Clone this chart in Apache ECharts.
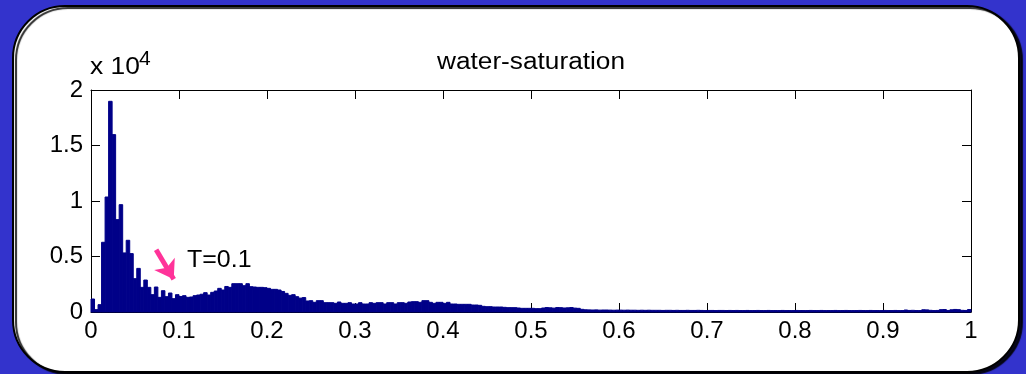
<!DOCTYPE html>
<html>
<head>
<meta charset="utf-8">
<title>water-saturation</title>
<script src="https://cdn.jsdelivr.net/npm/echarts@6/dist/echarts.min.js"></script>
<style>
	html, body { margin: 0; padding: 0; background: #3333cc; }
	#chart { width: 1026px; height: 374px; }
</style>
</head>
<body>
<div id="chart"></div>
<script>
// histogram bins, width 0.004, counts
var binWidth = 0.004
var countsA = [1170, 210, 660, 6280, 10360, 18980, 15980, 8320, 9670, 5320,
	6460, 5260, 3000, 3930, 2220, 2880, 2220, 1560, 2250, 1320,
	1920, 1380, 1710, 1200, 1560]						// 0 - 0.1
var countsB = [1400, 1470, 1320, 1350, 1470, 1530, 1600, 1740, 1530, 1770,
	1890, 2130, 1980, 2300, 2220, 2550, 2550, 2550, 2370, 2550,
	2280, 2250, 2220, 2220, 2190, 2130, 2040, 2040, 1980, 1850]	// 0.1 - 0.22
var countsC = [1680, 1500, 1560, 1380, 1250, 1300, 990, 1020, 870, 1020,
	1020, 840, 840, 840, 780, 900, 780, 780, 840, 720,
	720, 840, 720, 720, 840, 780, 840, 840, 720, 840,
	840, 720, 840, 840, 780]							// 0.22 - 0.36
var countsD = [900, 930, 930, 870, 1020, 1020, 870, 780, 870, 870,
	780, 870, 720, 720, 690, 690, 690, 690, 630, 630,
	600, 510, 480, 480, 450, 450, 450, 420, 390, 390,
	390, 360, 330, 330, 330, 330, 300, 300, 360, 400,
	380, 350, 400, 390, 360, 380, 400, 350, 330, 240]	// 0.36 - 0.56
var countsE = [200, 190, 180, 190, 170, 180, 180, 170, 160, 170,
	170, 160, 170, 160, 160, 150, 160, 150, 160, 150,
	150, 150, 140, 150, 150, 140, 150, 140, 140, 150,
	140, 140, 150, 140, 130, 140, 140, 130, 140, 140,
	130, 140, 130, 140, 130, 130, 140, 130, 130, 140,
	130, 130, 140, 130, 130, 130, 140, 130, 130, 130,
	140, 130, 130, 130, 140, 130, 130, 140, 130, 130,
	130, 140, 130, 130, 140, 130, 130, 130, 140, 130,
	130, 140, 130, 130, 130, 140, 130, 130, 140, 130,
	130, 180, 140, 150, 130, 130, 200, 190, 150, 130,
	140, 210, 220, 140, 200, 230, 210, 150, 140, 220]	// 0.56 - 1

var xTicks = [0, 1, 0.1]			// min, max, interval
var yTicks = [0, 20000, 5000]
var arrowFrom = [0.074, 5600]		// T=0.1 pointer
var arrowTo = [0.094, 2950]

var counts = countsA.concat(countsB, countsC, countsD, countsE)
var bins = counts.map(function (c, i) {
	return [+(i * binWidth).toFixed(3), c]
})

var barColor = '#000088'
var labelFont = 'Liberation Sans, Arial, sans-serif'

var chart = echarts.init(document.getElementById('chart'))
var option = {}
option.animation = false
option.backgroundColor = '#3333cc'

option.grid = { left: 91, right: 55, top: 90, bottom: 62 }

// matlab style box: axis on every side, ticks pointing in
var boxLine = { show: true, onZero: false, lineStyle: { color: '#000', width: 1 } }
var boxTick = { show: true, inside: true, length: 9, lineStyle: { color: '#000' } }

option.xAxis = [{
	type: 'value',
	min: xTicks[0], max: xTicks[1], interval: xTicks[2],
	axisLine: boxLine,
	axisTick: boxTick,
	splitLine: { show: false },
	axisLabel: { margin: 7, fontFamily: labelFont, fontSize: 24, color: '#000' }
}, {
	type: 'value',
	position: 'top',
	min: xTicks[0], max: xTicks[1], interval: xTicks[2],
	axisLine: boxLine,
	axisTick: boxTick,
	splitLine: { show: false },
	axisLabel: { show: false }
}]

option.yAxis = [{
	type: 'value',
	min: yTicks[0], max: yTicks[1], interval: yTicks[2],
	axisLine: boxLine,
	axisTick: boxTick,
	splitLine: { show: false },
	axisLabel: {
		margin: 8, fontFamily: labelFont, fontSize: 24, color: '#000',
		formatter: function (v) { return String(v / 10000) }
	}
}, {
	type: 'value',
	position: 'right',
	min: yTicks[0], max: yTicks[1], interval: yTicks[2],
	axisLine: boxLine,
	axisTick: boxTick,
	splitLine: { show: false },
	axisLabel: { show: false }
}]

// white rounded panel, title, exponent, annotation text
option.graphic = [{
	type: 'rect',
	z: -10,
	shape: { x: 13, y: 6, width: 1006, height: 366, r: 52 },
	style: {
		fill: '#fff', stroke: '#000', lineWidth: 2,
		shadowColor: 'rgba(0,0,0,0.85)', shadowBlur: 1, shadowOffsetX: 3, shadowOffsetY: 2
	}
}, {
	type: 'text',
	x: 531, y: 51,
	scaleX: 1.14,
	style: { text: 'water-saturation', font: '23px ' + labelFont, fill: '#000', align: 'center' }
}, {
	type: 'text',
	x: 90, y: 55,
	scaleX: 1.1,
	style: { text: 'x 10', font: '24px ' + labelFont, fill: '#000' }
}, {
	type: 'text',
	x: 139, y: 49,
	style: { text: '4', font: '21px ' + labelFont, fill: '#000' }
}, {
	type: 'text',
	x: 187, y: 248,
	scaleX: 1.04,
	style: { text: 'T=0.1', font: '24px ' + labelFont, fill: '#000' }
}]

option.series = [{
	type: 'custom',
	xAxisIndex: 0,
	yAxisIndex: 0,
	data: bins,
	renderItem: function (params, api) {
		var x0 = api.value(0)
		var p0 = api.coord([x0, api.value(1)])
		var p1 = api.coord([x0 + binWidth, 0])
		return {
			type: 'rect',
			shape: { x: p0[0], y: p0[1], width: p1[0] - p0[0], height: p1[1] - p0[1] },
			style: { fill: barColor, stroke: barColor, lineWidth: 1 }
		}
	},
	markLine: {
		silent: true,
		symbol: ['none', 'arrow'],
		symbolSize: 18,
		label: { show: false },
		lineStyle: { color: '#ff3399', width: 5, type: 'solid' },
		data: [[{ coord: arrowFrom }, { coord: arrowTo }]]
	}
}]

chart.setOption(option)
</script>
</body>
</html>
